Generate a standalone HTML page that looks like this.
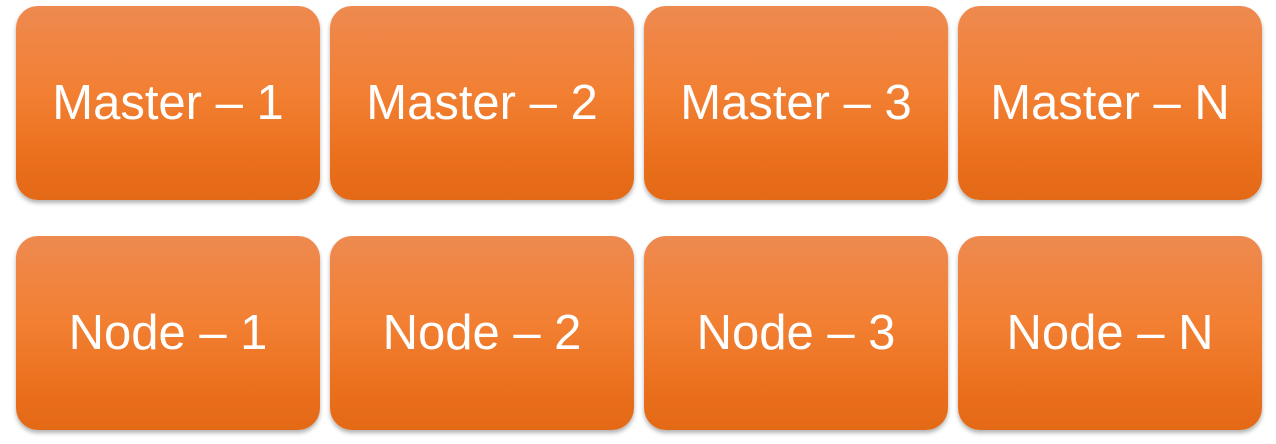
<!DOCTYPE html>
<html><head><style>
html,body{margin:0;padding:0;background:#fff;width:1276px;height:444px;overflow:hidden}
.b{position:absolute;width:304px;height:194px;border-radius:22px;
background:linear-gradient(to bottom,#ee8a50 0%,#f27f32 45%,#ea6f1c 80%,#e46916 100%);
box-shadow:0 3px 4px rgba(0,0,0,0.3);
color:#fff;font-family:"Liberation Sans",sans-serif;font-size:49px;
display:flex;align-items:center;justify-content:center;}
</style></head><body>
<div class="b" style="left:16px;top:6px">Master – 1</div>
<div class="b" style="left:330px;top:6px">Master – 2</div>
<div class="b" style="left:644px;top:6px">Master – 3</div>
<div class="b" style="left:958px;top:6px">Master – N</div>
<div class="b" style="left:16px;top:236px">Node – 1</div>
<div class="b" style="left:330px;top:236px">Node – 2</div>
<div class="b" style="left:644px;top:236px">Node – 3</div>
<div class="b" style="left:958px;top:236px">Node – N</div>
</body></html>
